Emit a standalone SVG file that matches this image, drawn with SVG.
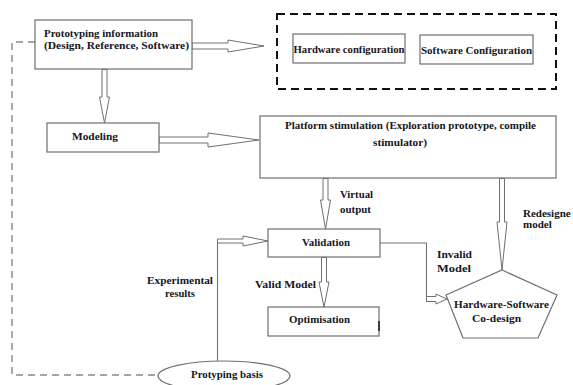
<svg xmlns="http://www.w3.org/2000/svg" width="573" height="385" viewBox="0 0 573 385">
  <style>
    .box { fill: #fff; stroke: #6e6e6e; stroke-width: 1.2; }
    .lbl { font-family: "Liberation Serif", "Times New Roman", serif; font-weight: bold; font-size: 11px; fill: #151522; }
    .blk { fill: #fff; stroke: #707070; stroke-width: 1; stroke-linejoin: miter; }
    .wire { fill: none; stroke: #707070; stroke-width: 1.1; }
    .dash { fill: none; stroke: #888; stroke-width: 1.4; stroke-dasharray: 7 5; }
  </style>
  <rect width="573" height="385" fill="#fff"/>

  <g id="connectors">
    <!-- feedback from the basis ellipse back to the top -->
    <path class="dash" d="M35,42 H12 V375 H158"/>
    <!-- info -> configuration group -->
    <path class="blk" d="M192,43 H228 V40 L264,46 L228,52 V49 H192 Z"/>
    <!-- info -> modeling -->
    <path class="blk" d="M102,69.5 V97 H99.5 L104.5,123 L109.5,97 H107 V69.5 Z"/>
    <!-- modeling -> platform -->
    <path class="blk" d="M159,137 H208 V133 L259,140 L208,147 V143 H159 Z"/>
    <!-- platform -> validation (virtual output) -->
    <path class="blk" d="M323,178.5 V200 H320.5 L325.5,229 L330.5,200 H328 V178.5 Z"/>
    <!-- platform -> co-design (redesign) -->
    <path class="blk" d="M499.5,178.5 V222 H497 L502,270 L507,222 H504.5 V178.5 Z"/>
    <!-- validation -> optimisation -->
    <path class="blk" d="M321.5,257.5 V282 H319 L324,307 L329,282 H326.5 V257.5 Z"/>
    <!-- experimental results -> validation -->
    <path class="wire" d="M217.5,361 V241"/>
    <path class="blk" d="M217.5,239 H243 V236 L268,241 L243,246 V243 H217.5 Z"/>
    <!-- validation -> co-design (invalid) -->
    <path class="wire" d="M380,243 H426.5 V297"/>
    <path class="blk" d="M426.5,296.5 H436 V294 L447,299 L436,304 V301.5 H426.5 Z"/>
  </g>

  <g id="prototyping-info">
    <rect class="box" x="35" y="20" width="157" height="49"/>
    <text class="lbl" x="44" y="37" textLength="114" lengthAdjust="spacingAndGlyphs">Prototyping information</text>
    <text class="lbl" x="44" y="49" textLength="145" lengthAdjust="spacingAndGlyphs">(Design, Reference, Software)</text>
  </g>

  <g id="configuration">
    <rect x="277" y="14" width="279" height="75" fill="none" stroke="#111" stroke-width="2" stroke-dasharray="8 5"/>
    <g id="hardware-configuration">
      <rect class="box" x="293" y="34" width="112" height="29"/>
      <text class="lbl" x="293.5" y="53" textLength="111" lengthAdjust="spacingAndGlyphs">Hardware configuration</text>
    </g>
    <g id="software-configuration">
      <rect class="box" x="420" y="35" width="113" height="29"/>
      <text class="lbl" x="421" y="54" textLength="111" lengthAdjust="spacingAndGlyphs">Software Configuration</text>
    </g>
  </g>

  <g id="modeling">
    <rect class="box" x="47" y="123" width="112" height="29"/>
    <text class="lbl" x="72" y="140" textLength="46" lengthAdjust="spacingAndGlyphs">Modeling</text>
  </g>

  <g id="platform">
    <rect class="box" x="260" y="116" width="296" height="62"/>
    <text class="lbl" x="285" y="129" textLength="251" lengthAdjust="spacingAndGlyphs">Platform stimulation (Exploration prototype, compile</text>
    <text class="lbl" x="373" y="146" textLength="54" lengthAdjust="spacingAndGlyphs">stimulator)</text>
  </g>

  <g id="validation">
    <rect class="box" x="268" y="229" width="112" height="28"/>
    <text class="lbl" x="302" y="246" textLength="48" lengthAdjust="spacingAndGlyphs">Validation</text>
  </g>

  <g id="optimisation">
    <rect class="box" x="268" y="307" width="111" height="29"/>
    <line x1="379" y1="321" x2="379" y2="331" stroke="#222" stroke-width="1.6"/>
    <text class="lbl" x="289" y="323" textLength="61" lengthAdjust="spacingAndGlyphs">Optimisation</text>
  </g>

  <g id="codesign">
    <polygon class="box" points="502,270 557,295 538,338 463,338 446,295"/>
    <text class="lbl" x="454" y="308" textLength="95" lengthAdjust="spacingAndGlyphs">Hardware-Software</text>
    <text class="lbl" x="472" y="322" textLength="49" lengthAdjust="spacingAndGlyphs">Co-design</text>
  </g>

  <g id="basis">
    <ellipse class="box" cx="224" cy="376" rx="66" ry="15"/>
    <text class="lbl" x="191" y="378" textLength="72" lengthAdjust="spacingAndGlyphs">Protyping basis</text>
  </g>

  <g id="labels">
    <text class="lbl" x="340" y="198" textLength="33" lengthAdjust="spacingAndGlyphs">Virtual</text>
    <text class="lbl" x="340" y="213" textLength="31" lengthAdjust="spacingAndGlyphs">output</text>
    <text class="lbl" x="523" y="217">Redesigne</text>
    <text class="lbl" x="523" y="228">model</text>
    <text class="lbl" x="437" y="258" textLength="35" lengthAdjust="spacingAndGlyphs">Invalid</text>
    <text class="lbl" x="437" y="272" textLength="34" lengthAdjust="spacingAndGlyphs">Model</text>
    <text class="lbl" x="255" y="288" textLength="61" lengthAdjust="spacingAndGlyphs">Valid Model</text>
    <text class="lbl" x="147" y="284" textLength="66" lengthAdjust="spacingAndGlyphs">Experimental</text>
    <text class="lbl" x="165" y="297" textLength="30" lengthAdjust="spacingAndGlyphs">results</text>
  </g>
</svg>
